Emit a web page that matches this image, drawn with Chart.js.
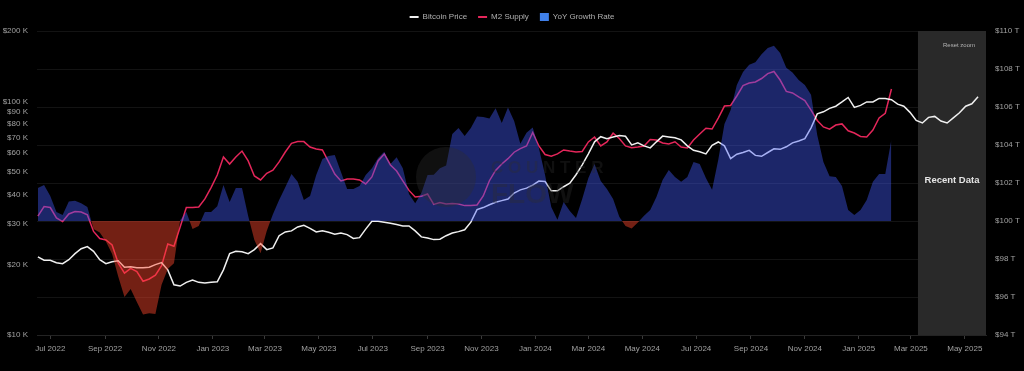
<!DOCTYPE html>
<html><head><meta charset="utf-8">
<script src="https://cdn.jsdelivr.net/npm/chart.js@4.4.1/dist/chart.umd.min.js"></script>
<style>html,body{margin:0;padding:0;background:#000;overflow:hidden}#wrap{width:1024px;height:371px}</style>
</head><body><div id="wrap"><canvas id="c" width="1024" height="371"></canvas></div>
<script>
// ---- data (weekly, first week below) ----
const weekStart = '2022-06-17';
const btcPrice = [21600,20900,20900,20400,20200,21000,22300,23400,23900,22800,
 21000,20200,20600,20800,19500,19600,19400,19400,19500,20000,
 20400,19000,16400,16200,16800,17200,16800,16700,16800,16900,
 19000,22300,22800,22700,22300,23200,24600,23200,23600,26600,
 27600,27900,29000,29500,28600,27600,27900,27500,27000,27300,
 26900,25900,26100,28400,30700,30700,30400,30100,29700,29300,
 29300,27900,26300,26000,25600,25700,26600,27300,27700,28200,
 30400,34400,35100,36100,37000,37600,38200,40500,41800,42500,
 43800,45600,45400,41400,41400,43100,44600,48500,53500,59600,
 67100,70600,69200,70300,71400,70900,65100,66400,64500,63200,
 67100,71000,70400,69900,68400,64500,61700,60800,59600,64800,
 67000,64500,56900,59400,60400,61700,58700,58200,60400,62600,
 62300,63900,66400,67700,69200,77000,88400,90200,93300,95300,
 99400,103900,94200,96100,99400,99400,102900,102800,101600,97300,
 95300,89700,82800,80800,85400,86200,82400,80800,85000,89300,
 95300,97600,104500];
const m2Supply = [100.26,100.76,100.71,100.16,99.97,100.37,100.50,100.47,100.32,99.45,
 99.08,99.00,98.74,97.78,97.26,97.51,97.34,96.83,96.95,97.15,
 97.65,98.79,98.67,99.68,100.71,100.71,100.74,101.16,101.76,102.42,
 103.37,103.00,103.37,103.68,103.16,102.37,102.16,102.51,102.68,103.11,
 103.63,104.09,104.18,104.18,103.89,103.79,103.74,103.11,102.47,102.11,
 102.21,102.21,102.16,101.95,102.32,103.16,103.53,102.95,102.63,102.11,
 101.61,101.26,101.30,101.42,100.87,100.97,100.89,100.92,100.89,100.81,
 100.82,100.84,101.32,102.12,102.66,103.00,103.28,103.62,103.81,103.95,
 104.66,103.95,103.50,103.41,103.53,103.74,103.68,103.63,103.66,104.16,
 104.42,103.95,104.16,104.62,104.34,103.95,103.86,103.89,103.95,104.29,
 104.26,104.11,104.05,104.17,103.89,103.84,104.26,104.58,104.88,104.84,
 105.42,106.05,106.08,106.58,107.13,107.26,107.32,107.50,107.76,107.87,
 107.42,106.82,106.74,106.53,106.34,105.84,105.29,104.95,104.83,105.05,
 105.11,104.75,104.63,104.45,104.42,104.79,105.42,105.67,106.95];
const yoyGrowth = [0.87,0.95,0.66,0.24,0.16,0.51,0.53,0.47,0.37,-0.21,
 -0.30,-0.54,-0.87,-1.47,-2.00,-1.79,-2.13,-2.46,-2.43,-2.45,
 -1.68,-1.26,-1.11,0.02,0.24,-0.21,-0.13,0.24,0.24,0.39,
 0.95,0.50,0.87,0.87,0.13,-0.50,-0.85,-0.26,0.18,0.55,
 0.89,1.24,1.03,0.55,0.66,1.21,1.63,1.71,1.74,1.29,
 0.84,0.84,0.92,1.21,1.39,1.66,1.82,1.50,1.68,1.39,
 0.71,0.47,0.74,1.21,1.22,1.39,1.46,2.29,2.45,2.24,
 2.45,2.75,2.74,2.70,2.97,2.58,2.99,2.63,2.03,2.32,
 2.46,1.92,1.21,0.37,0.03,0.50,0.26,0.08,0.58,1.13,
 1.50,1.05,0.84,0.58,0.11,-0.13,-0.20,-0.04,0.14,0.29,
 0.63,1.08,1.34,1.16,1.03,1.16,1.55,1.50,1.13,0.82,
 1.61,2.55,2.92,3.58,3.92,4.11,4.18,4.39,4.55,4.61,
 4.42,4.03,3.91,3.71,3.58,3.32,2.26,1.55,1.18,1.16,
 0.92,0.29,0.16,0.29,0.55,1.03,1.24,1.24,2.15];
const xTickDates = ['2022-07-01','2022-09-01','2022-11-01','2023-01-01','2023-03-01','2023-05-01',
 '2023-07-01','2023-09-01','2023-11-01','2024-01-01','2024-03-01','2024-05-01',
 '2024-07-01','2024-09-01','2024-11-01','2025-01-01','2025-03-01','2025-05-01'];
const xTickLabels = ['Jul 2022','Sep 2022','Nov 2022','Jan 2023','Mar 2023','May 2023',
 'Jul 2023','Sep 2023','Nov 2023','Jan 2024','Mar 2024','May 2024',
 'Jul 2024','Sep 2024','Nov 2024','Jan 2025','Mar 2025','May 2025'];
const btcTicks = [10000,20000,30000,40000,50000,60000,70000,80000,90000,100000,200000];
const m2Range = [94,110];
const growthRange = [-3,5];
const xRange = ['2022-06-16','2025-05-25'];
const recentStart = '2025-03-09';

// ---- helpers ----
const FONT = '"Liberation Sans", Arial, Helvetica, sans-serif';
function day(s){const [y,m,d]=s.split('-').map(Number);return Date.UTC(y,m-1,d)/86400000;}
const week0 = day(weekStart);
const toPts = arr => arr.map((v,i)=>({x: week0 + 7*i, y: v}));

const overlay = {
  id:'overlay',
  beforeDatasetsDraw(chart){
    const {ctx, chartArea:a, scales:{x}} = chart;
    const x0 = x.getPixelForValue(day(recentStart));
    ctx.save();
    ctx.fillStyle = '#292929';
    ctx.fillRect(x0, a.top, a.right - x0, a.bottom - a.top);
    ctx.textBaseline = 'middle';
    ctx.textAlign = 'center';
    ctx.fillStyle = '#e4e4e4';
    ctx.font = 'bold 9.5px ' + FONT;
    ctx.fillText('Recent Data', (x0 + a.right)/2, a.top + (a.bottom - a.top)*0.49);
    ctx.textAlign = 'right';
    ctx.fillStyle = '#b4b4b4';
    ctx.font = '6px ' + FONT;
    ctx.fillText('Reset zoom', a.right - 11, a.top + 14);
    ctx.restore();
  },
  afterDatasetsDraw(chart){
    const {ctx, chartArea:a} = chart;
    const cx = a.left + (a.right - a.left)*0.431, cy = a.top + (a.bottom - a.top)*0.48;
    ctx.save();
    ctx.fillStyle = 'rgba(45,45,45,0.35)';
    ctx.beginPath(); ctx.arc(cx, cy, 30, 0, Math.PI*2); ctx.fill();
    ctx.textAlign = 'left'; ctx.textBaseline = 'middle';
    ctx.font = 'bold 17px ' + FONT;
    ctx.fillText('C O U N T E R', cx + 45, cy - 9);
    ctx.font = 'bold 28px ' + FONT;
    ctx.fillText('FLOW', cx + 45, cy + 18);
    ctx.restore();
  }
};

const tickColor = '#a0a0a0';
new Chart(document.getElementById('c'), {
  type: 'line',
  data: {
    datasets: [
      {label:'Bitcoin Price', data: toPts(btcPrice), yAxisID:'yBtc', borderColor:'#f0f0f0', backgroundColor:'#f0f0f0',
       borderWidth:1.5, pointRadius:0, tension:0, order:1},
      {label:'M2 Supply', data: toPts(m2Supply), yAxisID:'yM2', borderColor:'rgb(228,38,90)', backgroundColor:'rgb(228,38,90)',
       borderWidth:1.5, pointRadius:0, tension:0, order:2},
      {label:'YoY Growth Rate', data: toPts(yoyGrowth), yAxisID:'yG', borderWidth:0, borderColor:'rgba(0,0,0,0)',
       backgroundColor:'rgba(66,90,250,0.42)', pointRadius:0, tension:0, order:0,
       fill:{target:{value:0}, above:'rgba(66,90,250,0.42)', below:'rgba(255,70,45,0.45)'}}
    ]
  },
  options: {
    responsive:false, animation:false, devicePixelRatio:1,
    layout:{padding:0},
    plugins:{
      legend:{display:true, position:'top', align:'center',
        labels:{color:'#b0b0b0', font:{size:8, family:FONT}, padding:11, usePointStyle:true, pointStyleWidth:9,
          sort:(a,b)=>a.datasetIndex-b.datasetIndex,
          generateLabels(chart){
            return chart.data.datasets.map((ds,i)=>{
              const isFill = i === 2;
              return {text: ds.label, datasetIndex:i, hidden:false, fontColor:'#b0b0b0',
                pointStyle: isFill ? 'rect' : 'line',
                fillStyle: isFill ? '#3f7fe8' : ds.borderColor,
                strokeStyle: isFill ? '#3f7fe8' : ds.borderColor,
                lineWidth: isFill ? 0 : 2};
            });
          }}},
      tooltip:{enabled:false}
    },
    scales:{
      x:{type:'linear', min:day(xRange[0]), max:day(xRange[1]),
        afterBuildTicks:s=>{s.ticks = xTickDates.map(d=>({value:day(d)}));},
        afterFit:s=>{s.height = 36;},
        ticks:{callback:(v,i)=>xTickLabels[i], color:tickColor, font:{size:8, family:FONT}, padding:5, autoSkip:false, maxRotation:0},
        grid:{display:true, drawOnChartArea:false, drawTicks:true, tickLength:4, color:'#3a3a3a'},
        border:{display:true, color:'#232323'}},
      yBtc:{type:'logarithmic', position:'left', min:btcTicks[0], max:btcTicks[btcTicks.length-1],
        afterBuildTicks:s=>{s.ticks = btcTicks.map(v=>({value:v}));},
        afterFit:s=>{s.width = 37; s.paddingTop = 31;},
        ticks:{callback:v=>'$' + (v/1000) + ' K', color:tickColor, font:{size:8, family:FONT}, padding:9, autoSkip:false},
        grid:{display:false, drawTicks:false}, border:{display:false}},
      yM2:{type:'linear', position:'right', min:m2Range[0], max:m2Range[1],
        afterFit:s=>{s.width = 38;},
        ticks:{stepSize:2, callback:v=>'$' + v + ' T', color:tickColor, font:{size:8, family:FONT}, padding:9, autoSkip:false},
        grid:{display:true, drawTicks:false, color:'rgba(255,255,255,0.075)'}, border:{display:false}},
      yG:{type:'linear', display:false, min:growthRange[0], max:growthRange[1]}
    }
  },
  plugins:[overlay]
});
</script></body></html>
